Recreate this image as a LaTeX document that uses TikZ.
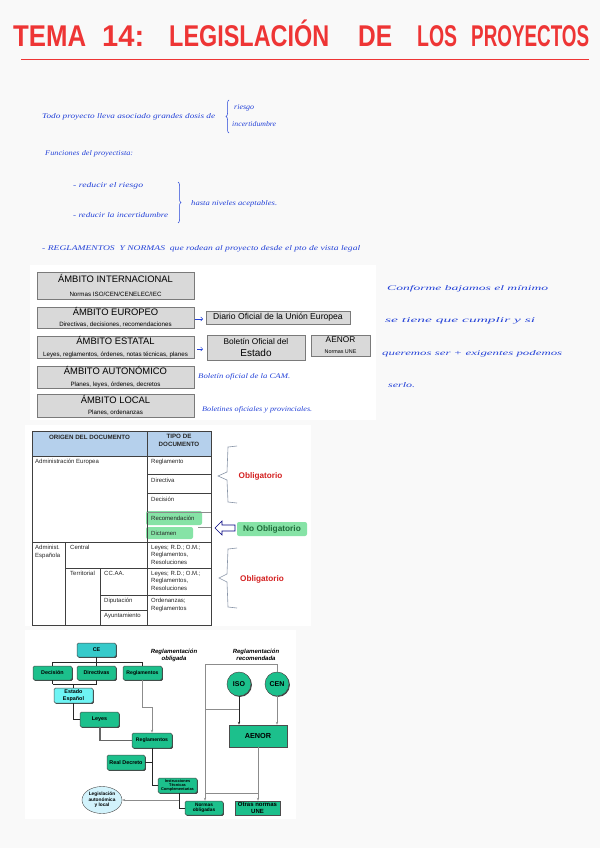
\documentclass[tikz,border=0pt]{standalone}
\usepackage{fontspec}
\setmainfont{Liberation Sans}
\newfontfamily\hand{Liberation Serif}
\usetikzlibrary{arrows.meta,decorations.pathreplacing,shapes.geometric,shadows}
\definecolor{pagebg}{HTML}{F9F9F9}
\definecolor{titlered}{HTML}{EE3535}
\definecolor{inkblue}{HTML}{2543D8}
\definecolor{boxgray}{HTML}{D9D9D9}
\definecolor{boxline}{HTML}{7A7A7A}
\definecolor{headblue}{HTML}{B5D0EC}
\definecolor{hlgreen}{HTML}{86E3A6}
\definecolor{darkgreen}{HTML}{1F6B3A}
\definecolor{oblred}{HTML}{D42020}
\definecolor{bracegray}{HTML}{8A96A8}
\definecolor{teal}{HTML}{1CC08C}
\definecolor{turq}{HTML}{36CACA}
\definecolor{cyanl}{HTML}{6EF4F4}
\definecolor{ellfill}{HTML}{D2F3FC}
\newcommand\hw[2]{\resizebox{#1}{5pt}{\hand\itshape #2}}
\newcommand\tw[2]{\resizebox{#1}{\height}{\fontsize{30}{30}\selectfont\bfseries #2}}
\tikzset{
  hwtext/.style={text=inkblue, inner sep=0pt, anchor=base west},
  ttext/.style={text=titlered, inner sep=0pt, anchor=base west},
  ambox/.style={draw=boxline, fill=boxgray, line width=0.7pt, inner sep=0pt, align=center},
  tcell/.style={inner sep=0pt, anchor=base west, font=\fontsize{6}{7.6}\selectfont, align=left, text=black!85},
  tline/.style={draw=black!75, line width=0.6pt},
  gnode/.style={draw=black!70, fill=teal, rounded corners=1.5pt, line width=0.5pt, inner sep=0pt, align=center, font=\bfseries\fontsize{5.4}{6}\selectfont,
     drop shadow={shadow xshift=0.9pt, shadow yshift=-0.9pt, fill=black!75, opacity=1}},
  darkc/.style={draw=black!85, line width=0.9pt},
  grayc/.style={draw=black!45, line width=0.5pt},
  thickg/.style={draw=black!60, line width=1.1pt},
}
\begin{document}
\begin{tikzpicture}[x=1pt,y=-1pt]
\useasboundingbox (0,0) rectangle (600,848);
\fill[pagebg] (0,0) rectangle (600,848);

% ---------- title ----------
\node[ttext] (t1) at (13,47) {\tw{73pt}{TEMA}};
\node[ttext] (t2) at (102,47) {\tw{42pt}{14:}};
\node[ttext] (t3) at (169,47) {\tw{160pt}{LEGISLACIÓN}};
\node[ttext] (t4) at (358,47) {\tw{34pt}{DE}};
\node[ttext] (t5) at (417,47) {\tw{40pt}{LOS}};
\node[ttext] (t6) at (471,47) {\tw{118pt}{PROYECTOS}};
\coordinate (rl1) at (21,59);
\coordinate (rl2) at (589,59);
\draw[titlered, line width=0.8pt] (rl1) -- (rl2);

% ---------- handwritten notes ----------
\node[hwtext] (h1) at (42,118) {\hw{173pt}{Todo proyecto lleva asociado grandes dosis de}};
\coordinate (b1a) at (229,100);
\coordinate (b1b) at (229,133);
\draw[inkblue, line width=0.5pt, decorate, decoration={brace, amplitude=3pt, mirror}] (b1a) -- (b1b);
\node[hwtext] (h2) at (234,110) {\hw{20pt}{riesgo}};
\node[hwtext] (h3) at (232,127) {\hw{44pt}{incertidumbre}};
\node[hwtext] (h4) at (45,155) {\hw{88pt}{Funciones del proyectista:}};
\node[hwtext] (h5) at (73,187) {\hw{70pt}{- reducir el riesgo}};
\node[hwtext] (h6) at (73,217) {\hw{95pt}{- reducir la incertidumbre}};
\coordinate (b2a) at (178,182);
\coordinate (b2b) at (178,223);
\draw[inkblue, line width=0.5pt, decorate, decoration={brace, amplitude=3pt}] (b2a) -- (b2b);
\node[hwtext] (h7) at (191,205) {\hw{86pt}{hasta niveles aceptables.}};
\node[hwtext] (h8) at (42,250) {\hw{318pt}{- REGLAMENTOS \ Y NORMAS \ que rodean al proyecto desde el pto de vista legal}};

\node[hwtext] (r1) at (387,290) {\hw{161pt}{Conforme bajamos el mínimo}};
\node[hwtext] (r2) at (385,322) {\hw{150pt}{se tiene que cumplir y si}};
\node[hwtext] (r3) at (382,355) {\hw{180pt}{queremos ser + exigentes podemos}};
\node[hwtext] (r4) at (388,387) {\hw{27pt}{serlo.}};

% ---------- ambito block ----------
\fill[white] (30,265) rectangle (376,420);
\node[ambox, minimum width=157pt, minimum height=27pt] (a1) at (115.5,285.5)
  {\fontsize{9.4}{9.5}\selectfont ÁMBITO INTERNACIONAL\\[2pt]{\fontsize{6.2}{6.5}\selectfont Normas ISO/CEN/CENELEC/IEC}};
\node[ambox, minimum width=157pt, minimum height=21pt] (a2) at (115.5,317.5)
  {\fontsize{9.4}{9.5}\selectfont ÁMBITO EUROPEO\\[-0.5pt]{\fontsize{6.2}{6.5}\selectfont Directivas, decisiones, recomendaciones}};
\node[ambox, minimum width=157pt, minimum height=22pt] (a3) at (115.5,347)
  {\fontsize{9.4}{9.5}\selectfont ÁMBITO ESTATAL\\[-0.5pt]{\fontsize{6.2}{6.5}\selectfont Leyes, reglamentos, órdenes, notas técnicas, planes}};
\node[ambox, minimum width=157pt, minimum height=22pt] (a4) at (115.5,377)
  {\fontsize{9.4}{9.5}\selectfont ÁMBITO AUTONÓMICO\\[-0.5pt]{\fontsize{6.2}{6.5}\selectfont Planes, leyes, órdenes, decretos}};
\node[ambox, minimum width=157pt, minimum height=23pt] (a5) at (115.5,405.5)
  {\fontsize{9.4}{9.5}\selectfont ÁMBITO LOCAL\\[-0.5pt]{\fontsize{6.2}{6.5}\selectfont Planes, ordenanzas}};
\node[ambox, minimum width=144pt, minimum height=13pt] (doue) at (278,317.5)
  {\fontsize{8.6}{9}\selectfont Diario Oficial de la Unión Europea};
\node[ambox, minimum width=98pt, minimum height=25pt] (boe) at (256,347.5)
  {\fontsize{8.3}{10}\selectfont Boletín Oficial del\\Estado};
\node[ambox, minimum width=59pt, minimum height=21pt] (aenor1) at (340.5,345.5)
  {\fontsize{8.3}{8.5}\selectfont AENOR\\[-1pt]{\fontsize{5.4}{6}\selectfont Normas UNE}};
\coordinate (ar1a) at (195,319);
\coordinate (ar1b) at (203,319);
\draw[inkblue, line width=0.5pt, -{Straight Barb[length=2pt]}] (ar1a) -- (ar1b);
\coordinate (ar2a) at (197,349);
\coordinate (ar2b) at (203,349);
\draw[inkblue, line width=0.5pt, -{Straight Barb[length=2pt]}] (ar2a) -- (ar2b);
\node[hwtext] (c1) at (198,378) {\hw{92pt}{Boletín oficial de la CAM.}};
\node[hwtext] (c2) at (202,411) {\hw{110pt}{Boletines oficiales y provinciales.}};

% ---------- table block ----------
\fill[white] (25,425) rectangle (311,626);
\fill[headblue] (32,431) rectangle (211,456);
\node[inner sep=0pt, font=\bfseries\fontsize{6.2}{7}\selectfont, text=black!85] (th1) at (89.5,437) {ORIGEN DEL DOCUMENTO};
\node[inner sep=0pt, font=\bfseries\fontsize{6.2}{7.4}\selectfont, text=black!85, align=center] (th2) at (179,440.5) {TIPO DE\\DOCUMENTO};
% highlights
\fill[hlgreen, rounded corners=2pt] (146,511) rectangle (202,525);
\fill[hlgreen, rounded corners=2pt] (146,527) rectangle (193,539);
% grid
\draw[tline] (32,431) rectangle (211,625);
\draw[tline] (147,431) -- (147,625);
\draw[tline] (32,456) -- (211,456);
\draw[tline] (147,474) -- (211,474);
\draw[tline] (147,493) -- (211,493);
\draw[tline, draw=black!45] (147,512) -- (211,512);
\draw[tline, draw=black!45] (198,527) -- (211,527);
\draw[tline] (32,542) -- (211,542);
\draw[tline] (65,542) -- (65,625);
\draw[tline] (65,568) -- (211,568);
\draw[tline] (100,568) -- (100,625);
\draw[tline] (100,595) -- (211,595);
\draw[tline] (100,610) -- (147,610);
% cells
\node[tcell] (c_ae) at (35,463) {Administración Europea};
\node[tcell] (c_re) at (151,463) {Reglamento};
\node[tcell] (c_di) at (151,482) {Directiva};
\node[tcell] (c_de) at (151,501) {Decisión};
\node[tcell] (c_rc) at (151,520) {Recomendación};
\node[tcell] (c_dt) at (151,535) {Dictamen};
\node[tcell, anchor=north west] (c_ad) at (35,545) {Administ.\\Española};
\node[tcell, anchor=north west] (c_ce) at (70,545) {Central};
\node[tcell, anchor=north west] (c_l1) at (151,545) {Leyes; R.D.; O.M.;\\Reglamentos,\\Resoluciones};
\node[tcell, anchor=north west] (c_te) at (70,571) {Territorial};
\node[tcell, anchor=north west] (c_cc) at (104,571) {CC.AA.};
\node[tcell, anchor=north west] (c_l2) at (151,571) {Leyes; R.D.; O.M.;\\Reglamentos,\\Resoluciones};
\node[tcell, anchor=north west] (c_dp) at (104,598) {Diputación};
\node[tcell, anchor=north west] (c_or) at (151,598) {Ordenanzas;\\Reglamentos};
\node[tcell, anchor=north west] (c_ay) at (104,613) {Ayuntamiento};
% braces and labels
\draw[bracegray, line width=0.6pt] (237,446) -- (228,447) -- (227,472) -- (218,476) -- (227,480) -- (228,502) -- (237,503);
\node[inner sep=0pt, font=\bfseries\fontsize{8.2}{9}\selectfont, text=oblred] (ob1) at (260.5,476) {Obligatorio};
\draw[bracegray, line width=0.6pt] (237,548) -- (228,549) -- (227,574) -- (219,578) -- (227,582) -- (228,607) -- (237,608);
\node[inner sep=0pt, font=\bfseries\fontsize{8.2}{9}\selectfont, text=oblred] (ob2) at (262,579) {Obligatorio};
\node[fill=hlgreen, rounded corners=2pt, inner sep=0pt, minimum width=70pt, minimum height=14pt, font=\bfseries\fontsize{8.3}{9}\selectfont, text=darkgreen] (nob) at (272,529) {No Obligatorio};
\draw[draw=blue!50!black, fill=white, line width=0.6pt] (215,528) -- (222,521) -- (222,525) -- (235,525) -- (235,531) -- (222,531) -- (222,535) -- cycle;

% ---------- bottom diagram ----------
\fill[white] (25,630) rectangle (296,819);
\node[gnode, fill=turq, minimum width=39pt, minimum height=14pt] (ce) at (96.5,650) {CE};
\node[gnode, minimum width=39pt, minimum height=14pt] (dec) at (52.5,673) {Decisión};
\node[gnode, minimum width=39pt, minimum height=14pt] (dir) at (96.5,673) {Directivas};
\node[gnode, minimum width=39pt, minimum height=14pt, font=\bfseries\fontsize{5.1}{6}\selectfont] (reg) at (142.5,673) {Reglamentos};
\node[gnode, fill=cyanl, minimum width=39pt, minimum height=15pt, font=\bfseries\fontsize{5.4}{6.2}\selectfont] (est) at (73.5,695.5) {Estado\\Español};
\node[gnode, minimum width=39pt, minimum height=15pt] (ley) at (99.5,719.5) {Leyes};
\node[gnode, minimum width=40pt, minimum height=15pt, font=\bfseries\fontsize{5.1}{6}\selectfont] (reg2) at (152,740.5) {Reglamentos};
\node[gnode, minimum width=38pt, minimum height=15pt] (rd) at (126,762.5) {Real Decreto};
\node[gnode, minimum width=39pt, minimum height=15pt, font=\bfseries\fontsize{3.9}{4.3}\selectfont] (itc) at (177.5,785.5) {Instrucciones\\Técnicas\\Complementarias};
\node[gnode, minimum width=38pt, minimum height=14pt, font=\bfseries\fontsize{4.8}{5.6}\selectfont] (nob2) at (204,808) {Normas\\obligadas};
\node[draw=black!70, fill=ellfill, ellipse, inner sep=0pt, minimum width=40pt, minimum height=27pt, align=center, font=\bfseries\fontsize{4.8}{5.4}\selectfont] (ell) at (102,800) {Legislación\\autonómica\\y local};
\node[gnode, circle, rounded corners=0pt, minimum size=24pt, font=\bfseries\fontsize{7}{8}\selectfont] (iso) at (239,684) {ISO};
\node[gnode, circle, rounded corners=0pt, minimum size=24pt, font=\bfseries\fontsize{7}{8}\selectfont] (cen) at (277,684) {CEN};
\node[gnode, rounded corners=0pt, minimum width=58pt, minimum height=22pt, font=\bfseries\fontsize{7.3}{8}\selectfont] (aenor) at (258,736) {AENOR};
\node[gnode, rounded corners=0pt, minimum width=45pt, minimum height=14pt, font=\bfseries\fontsize{6}{6.4}\selectfont] (onu) at (257.5,808) {Otras normas\\UNE};
\node[inner sep=0pt, align=center, font=\bfseries\itshape\fontsize{6}{7}\selectfont] (lob) at (174,655) {Reglamentación\\obligada};
\node[inner sep=0pt, align=center, font=\bfseries\itshape\fontsize{6}{7}\selectfont] (lre) at (256,655) {Reglamentación\\recomendada};
% connectors left
\coordinate (barL) at (52.5,662);
\coordinate (barR) at (142.5,662);
\draw[darkc, line width=0.7pt] (barL) -- (barR);
\draw[darkc, line width=0.7pt] (ce) -- (ce.south |- barL);
\draw[darkc, line width=0.7pt] (barL) -- (dec.north);
\draw[darkc, line width=0.7pt] (dir.north |- barL) -- (dir.north);
\draw[darkc, line width=0.7pt] (barR) -- (reg.north);
\coordinate (dd) at (73.5,684);
\draw[darkc, line width=0.7pt] (dec.south |- dd) -- (dir.south |- dd);
\draw[darkc, line width=0.7pt] (dec.south) -- (dec.south |- dd);
\draw[darkc, line width=0.7pt] (dir.south) -- (dir.south |- dd);
\draw[darkc, line width=0.7pt] (dd) -- (est.north);
\draw[darkc] (est.south) |- (ley.west);
\coordinate (ly) at (100,727);
\draw[thickg] (ly) |- (reg2.west);
\coordinate (rg1) at (142.5,707);
\draw[grayc, -{Stealth[length=3pt]}] (reg.south) -- (rg1) -| (reg2.north);
\coordinate (v1) at (152,785.5);
\draw[darkc] (reg2.south) -- (v1) -- (itc.west);
\coordinate (v2) at (152,762.5);
\draw[darkc] (rd.east) -- (v2);
\coordinate (v3) at (179,808);
\draw[darkc] (itc.south -| v3) -- (v3) -- (nob2.west);
\coordinate (v4) at (179,800);
\draw[grayc, -{Stealth[length=3pt]}] (v4) -- (ell.east);
% connectors right
\coordinate (g1) at (205,664);
\coordinate (g2) at (277,664);
\draw[grayc] (cen.north) -- (g2) -- (g1);
\draw[grayc, -{Stealth[length=3pt]}] (g1) -- (nob2.north -| g1);
\coordinate (g3) at (205,709);
\coordinate (g4) at (239,709);
\draw[grayc] (g3) -- (g4);
\draw[darkc, line width=0.7pt, -{Stealth[length=3pt]}] (iso.south) -- (aenor.north -| iso.south);
\draw[grayc, -{Stealth[length=3pt]}] (cen.south) -- (aenor.north -| cen.south);
\coordinate (g5) at (205,793);
\coordinate (g6) at (258,793);
\draw[grayc] (g5) -- (g6);
\draw[grayc, -{Stealth[length=3pt]}] (aenor.south) -- (onu.north -| aenor.south);
\end{tikzpicture}
\end{document}
